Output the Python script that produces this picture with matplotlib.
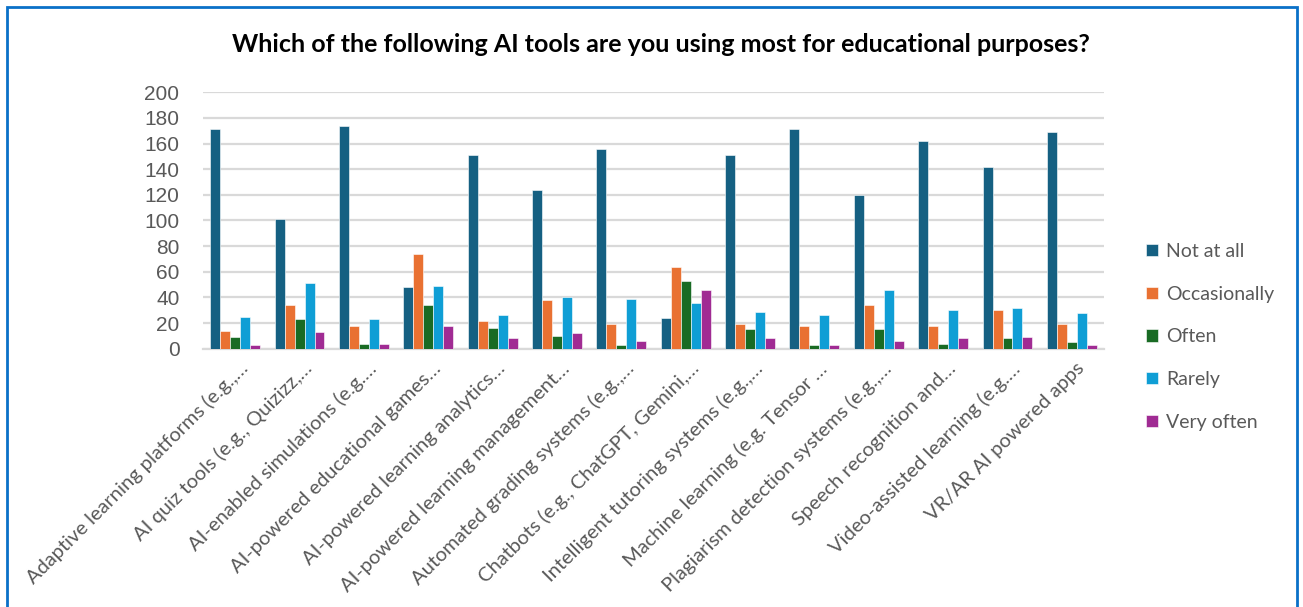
import numpy as np
import matplotlib.pyplot as plt
from matplotlib.patches import Rectangle
from matplotlib.transforms import ScaledTranslation

# survey answers per AI tool
tools = [
    "Adaptive learning platforms (e.g.,…",
    "AI quiz tools (e.g., Quizizz,…",
    "AI-enabled simulations (e.g.…",
    "AI-powered educational games…",
    "AI-powered learning analytics…",
    "AI-powered learning management…",
    "Automated grading systems (e.g.,…",
    "Chatbots (e.g., ChatGPT, Gemini,…",
    "Intelligent tutoring systems (e.g.,…",
    "Machine learning (e.g. Tensor …",
    "Plagiarism detection systems (e.g.,…",
    "Speech recognition and…",
    "Video-assisted learning (e.g.…",
    "VR/AR AI powered apps",
]
not_at_all = [171, 101, 174, 48, 151, 124, 156, 24, 151, 171, 120, 162, 142, 169]
occasionally = [14, 34, 18, 74, 22, 38, 19, 64, 19, 18, 34, 18, 30, 19]
often = [9, 23, 4, 34, 16, 10, 3, 53, 15, 3, 15, 4, 8, 5]
rarely = [25, 51, 23, 49, 26, 40, 39, 36, 29, 26, 46, 30, 32, 28]
very_often = [3, 13, 4, 18, 8, 12, 6, 46, 8, 3, 6, 8, 9, 3]

series = ["Not at all", "Occasionally", "Often", "Rarely", "Very often"]
colors = ["#156082", "#E97132", "#196B24", "#0F9ED5", "#A02B93"]
values = [not_at_all, occasionally, often, rarely, very_often]

grey = "#595959"

fig = plt.figure(figsize=(13.03, 6.07), dpi=100)
ax = fig.add_axes([0.1558, 0.4255, 0.6915, 0.4225])

x = np.arange(len(tools))
w = 0.155
for i, (name, vals, c) in enumerate(zip(series, values, colors)):
    ax.bar(x + (i - 2) * w, vals, width=w, color=c, label=name,
           edgecolor="white", linewidth=0.4, zorder=3)

ax.set_xlim(-0.5, len(tools) - 0.5)
ax.set_ylim(0, 200)
ax.set_yticks(range(0, 201, 20))
ax.grid(axis="y", color="#d9d9d9", linewidth=1.6, zorder=0)
for s in ["top", "right", "left"]:
    ax.spines[s].set_visible(False)
ax.spines["bottom"].set_color("#d9d9d9")
ax.spines["bottom"].set_linewidth(1.6)
ax.tick_params(axis="both", length=0)
ax.tick_params(axis="y", labelsize=15, labelcolor=grey, pad=17)
for lbl in ax.get_yticklabels():
    lbl.set_family("Liberation Sans")

ax.set_xticks(x)
ax.set_xticklabels(tools, rotation=45, ha="right", va="center",
                   rotation_mode="anchor", fontsize=14.5, color=grey,
                   family="Lato")
shift = ScaledTranslation(10 / 100, -12 / 100, fig.dpi_scale_trans)
for lbl in ax.get_xticklabels():
    lbl.set_transform(lbl.get_transform() + shift)

fig.text(0.507, 0.926, "Which of the following AI tools are you using most for educational purposes?",
         ha="center", va="center", fontsize=18, fontweight="bold",
         family="Lato", color="black")

leg = ax.legend(loc="center left", bbox_to_anchor=(1146 / 1303, 0.445),
                bbox_transform=fig.transFigure, frameon=False,
                prop={"family": "Lato", "size": 14}, labelcolor=grey,
                handlelength=0.6, handleheight=0.6, handletextpad=0.45,
                labelspacing=1.32, borderpad=0, borderaxespad=0)

# blue outline of the chart area
fig.patches.append(Rectangle((7 / 1303, -0.05), 1290 / 1303, 1.05 - 7 / 607,
                             transform=fig.transFigure, fill=False,
                             edgecolor="#0A70C8", linewidth=2, clip_on=False))

fig.savefig("out.png", dpi=100, facecolor="white")
